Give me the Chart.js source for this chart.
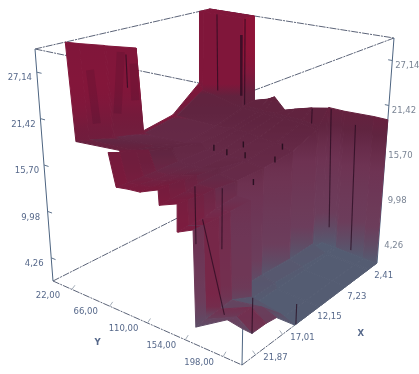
<!DOCTYPE html>
<html>
<head>
<meta charset="utf-8">
<title>Surface</title>
<script src="https://cdn.jsdelivr.net/npm/chart.js@4"></script>
<style>
  html, body { margin: 0; padding: 0; background: #fff; }
  #chart { display: block; filter: blur(0.5px); }
</style>
</head>
<body>
<canvas id="chart" width="419" height="374"></canvas>
<script>
const xTicks = [2.41, 7.23, 12.15, 17.01, 21.87];
const yTicks = [22, 66, 110, 154, 198];
const zTicks = [4.26, 9.98, 15.7, 21.42, 27.14];
const xLabels = ["2,41", "7,23", "12,15", "17,01", "21,87"];
const yLabels = ["22,00", "66,00", "110,00", "154,00", "198,00"];
const zLabels = ["4,26", "9,98", "15,70", "21,42", "27,14"];

const xRange = [0, 24.3];
const yRange = [0, 220];
const zRange = [1.4, 30];

const gridX = [24.3, 22.6, 20.1, 18.2, 14.8, 14.6, 10.4, 10.3, 5.6, 1.7, 1.46, 0.12, 0];
const gridY = [0, 4.4, 52.8, 53.9, 71.9, 79.2, 92.4, 105.2, 125.4, 126.3, 146.1, 146.7, 163.5, 166.3, 202.4, 220];
const n = null;
const surfaceZ = [
  [n, n, n, n, 19.6, 15.8, 16, 16.1, 17, 15.3, 16.1, 13, 13.8, 3.3, 5.5, 5.2],
  [n, n, n, n, 19.1, 15.7, 16, 16.1, 17, 15.4, 16, 13.1, 13.7, 3.4, 5.1, 4],
  [30, 17.5, 18, 18, 18.6, 15.7, 15.7, 16, 16.8, 15.4, 15.7, 13.1, 13.7, 3.5, 5.1, 4],
  [29.4, 17.1, 17.4, 17.4, 18, 15.7, 15.7, 16, 16.6, 15.7, 15.7, 13.4, 13.7, 3.7, 4.3, 3.8],
  [28.4, 16.3, 16.8, 16.8, 17.1, 15.7, 15.7, 15.7, 16.3, 15.7, 15.4, 13.7, 13.7, 2.5, 2, 1.4],
  [28.3, 16.3, 16.8, 16.8, 17.1, 15.7, 15.7, 15.7, 16.3, 15.7, 15.4, 2.3, 2, 1.4, 1.4, 1.4],
  [27, 15.4, 15.7, 15.7, 16.3, 15.7, 15.7, 15.7, 15.7, 15.7, 15.4, 2.3, 2, 1.4, 1.4, 1.4],
  [15.4, 15.4, 15.7, 15.7, 16.3, 15.7, 15.7, 15.7, 15.7, 15.7, 15.4, 2.3, 2, 1.4, 1.4, 1.4],
  [16.2, 16.2, 16.3, 16.3, 16.6, 16.6, 16.6, 16.3, 16.3, 16.3, 15.7, 2, 1.7, 1.4, 1.4, 1.4],
  [19.5, 18.6, 17.4, 17.4, 17.4, 17.4, 17.4, 17.4, 17.4, 17.4, 17.1, 2, 1.4, 1.4, 1.4, 1.4],
  [30, 30, 30, 17.7, 17.7, 17.7, 17.7, 17.7, 17.7, 17.7, 17.4, 1.4, 1.4, 1.4, 1.4, 1.4],
  [30, 30, 30, 17.9, 18.6, 19.1, 17.6, 18.1, 18.8, 18.8, 19.3, 1.4, 1.4, 1.4, 1.4, 1.4],
  [30, 30, 30, 17.9, 18.6, 19.1, 17.6, 18.1, 18.8, 18.8, 19.3, 19.4, 19.4, 19.4, 19.6, 19.6],
];

// dark creases on the surface: [x, y, z] start and end
const creaseFrom = [
  [0.05, 150, 19.3], [0.05, 181, 18], [0.5, 130, 19], [19.5, 163.5, 16.8], [22.6, 220, 7.8],
  [14.6, 220, 3.7], [24.3, 174, 15.3], [24.2, 165, 18.6], [1.46, 20.7, 30], [1.46, 54, 30],
  [1.0, 46, 27.4], [11.9, 0.4, 26.5],
];
const creaseTo = [
  [0.05, 155, 3.7], [0.05, 185, 1.8], [0.5, 130, 17], [19.5, 163.5, 9.9], [22.6, 220, 4],
  [14.6, 220, 1.4], [24.3, 199, 5.9], [24.2, 166, 12.3], [1.46, 20.7, 18.9], [1.46, 54, 17.8],
  [1.0, 46, 18.7], [11.9, 0.4, 22],
];
// wide soft streaks on the back slab
const streakFrom = [[17, 0.4, 25.7], [12.6, 0.4, 27], [10.9, 0.4, 25]];
const streakTo = [[16.5, 0.4, 18.6], [13.5, 0.4, 19], [10.9, 0.4, 20]];
const speckX = [9.5, 9.7, 7, 9.2, 8.3, 5.1, 14.3];
const speckY = [81, 98, 97, 116, 145, 130, 163];
const speckZ = [15.7, 15.7, 15.7, 15.7, 15.7, 15.7, 15.7];

// frame corners on the page, floor then top: [x=max y=min, x=max y=max, x=min y=max, x=min y=min]
const floorFrame = [[53, 281], [242, 365], [377, 263], [213, 200]];
const topFrame = [[35, 49], [247, 93], [394, 38], [210, 9]];

const norm = (v, r) => (v - r[0]) / (r[1] - r[0]);
const mix = (a, b, t) => a + (b - a) * t;

function bilinear(f, u, v, k) {
  return mix(mix(f[0][k], f[1][k], v), mix(f[3][k], f[2][k], v), u);
}

function project(x, y, z) {
  const u = 1 - norm(x, xRange);
  const v = norm(y, yRange);
  const w = norm(z, zRange);
  return {
    x: mix(bilinear(floorFrame, u, v, 0), bilinear(topFrame, u, v, 0), w),
    y: mix(bilinear(floorFrame, u, v, 1), bilinear(topFrame, u, v, 1), w),
  };
}

const colorStops = [
  [0, [84, 92, 114]],
  [0.05, [90, 82, 106]],
  [0.14, [108, 62, 92]],
  [0.42, [110, 50, 82]],
  [0.55, [96, 36, 64]],
  [0.62, [98, 34, 62]],
  [0.72, [128, 24, 60]],
  [0.82, [142, 20, 56]],
  [1, [142, 20, 56]],
];

function surfaceColor(x, y, z) {
  const u = 1 - norm(x, xRange);
  const v = norm(y, yRange);
  const w = norm(z, zRange);
  let i = 0;
  while (i < colorStops.length - 2 && w > colorStops[i + 1][0]) i++;
  const t = (w - colorStops[i][0]) / (colorStops[i + 1][0] - colorStops[i][0]);
  let rgb = colorStops[i][1].map((c, k) => mix(c, colorStops[i + 1][1][k], t));
  // left side, back slab and back pillar read redder, the front left strip does not
  let red = Math.max((0.35 - u) / 0.35 * 0.8, (0.04 - v) / 0.04, 0);
  if (u > 0.93 && v < 0.23 && w > 0.62) red = 1;
  if (u < 0.08 && v > 0.74) red = 0;
  red = Math.min(1, red) * Math.min(1, Math.max(0, (w - 0.03) / 0.1));
  rgb = rgb.map((c, k) => mix(c, [128, 22, 58][k], red));
  return "rgb(" + rgb.map(Math.round).join(",") + ")";
}

const canvas = document.getElementById("chart");
const ctx = canvas.getContext("2d");
const datasets = [];

function addLine(points, color, width, dash) {
  datasets.push({
    data: points,
    showLine: true,
    fill: false,
    pointRadius: 0,
    borderColor: color,
    borderWidth: width,
    borderDash: dash || [],
  });
}

// frame edges, behind the surface
const xa = xRange[0], xb = xRange[1], ya = yRange[0], yb = yRange[1], za = zRange[0], zb = zRange[1];
const frameEdges = [
  [[xb, ya, zb], [xa, ya, zb]], [[xa, ya, zb], [xa, yb, zb]], [[xa, yb, zb], [xb, yb, zb]], [[xb, yb, zb], [xb, ya, zb]],
  [[xb, ya, za], [xb, yb, za]], [[xb, yb, za], [xa, yb, za]], [[xb, ya, za], [xa, ya, za]],
  [[xb, ya, za], [xb, ya, zb]], [[xa, yb, za], [xa, yb, zb]], [[xb, yb, za], [xb, yb, zb]],
];
frameEdges.forEach((e, i) => {
  const solid = i >= 7;
  addLine(e.map((p) => project(p[0], p[1], p[2])), solid ? "#4d6480" : "#5c6478", 1, solid ? [] : [7, 1, 2, 1]);
});

// tick marks
yTicks.forEach((t) => addLine([project(xb, t, za), project(xb - 0.5, t, za + 0.3)], "#a4adb8", 1));
xTicks.forEach((t) => addLine([project(t, yb, za), project(t, yb - 3.5, za + 0.3)], "#a4adb8", 1));
zTicks.forEach((t) => {
  addLine([project(xb, ya, t), project(xb, ya + 5, t)], "#5f738c", 1);
  addLine([project(xa, yb, t), project(xa, yb - 5, t)], "#5f738c", 1);
});

// surface cells, back to front
for (let i = gridX.length - 2; i >= 0; i--) {
  for (let j = 0; j < gridY.length - 1; j++) {
    const corners = [[i, j], [i + 1, j], [i + 1, j + 1], [i, j + 1]]
      .filter((c) => surfaceZ[c[0]][c[1]] !== null)
      .map((c) => [gridX[c[0]], gridY[c[1]], surfaceZ[c[0]][c[1]]]);
    if (corners.length < 3) continue;
    const pts = corners.map((c) => project(c[0], c[1], c[2]));
    let top = 0, bottom = 0;
    pts.forEach((p, k) => {
      if (p.y < pts[top].y) top = k;
      if (p.y > pts[bottom].y) bottom = k;
    });
    const a = corners[top];
    const b = corners[bottom];
    const grad = ctx.createLinearGradient(0, pts[top].y, 0, Math.max(pts[bottom].y, pts[top].y + 0.5));
    for (let s = 0; s <= 8; s++) {
      const f = s / 8;
      grad.addColorStop(f, surfaceColor(mix(a[0], b[0], f), mix(a[1], b[1], f), mix(a[2], b[2], f)));
    }
    datasets.push({
      data: pts.concat([pts[0]]),
      showLine: true,
      fill: "shape",
      pointRadius: 0,
      tension: 0,
      backgroundColor: grad,
      borderColor: grad,
      borderWidth: 1,
    });
  }
}

streakFrom.forEach((p, i) => {
  const q = streakTo[i];
  addLine([project(p[0], p[1], p[2]), project(q[0], q[1], q[2])], "rgba(40,10,30,0.13)", 8);
});

creaseFrom.forEach((p, i) => {
  const q = creaseTo[i];
  addLine([project(p[0], p[1], p[2]), project(q[0], q[1], q[2])], "rgba(38,10,30,0.72)", i === 10 ? 2.4 : 1.1);
});

datasets.push({
  data: speckX.map((x, i) => project(x, speckY[i], speckZ[i])),
  showLine: false,
  pointStyle: "line",
  rotation: 90,
  pointRadius: 3,
  pointBorderColor: "rgba(30,10,26,0.85)",
  pointBorderWidth: 1.4,
});

// tick labels next to their ticks
const axisText = {
  id: "axisText",
  afterDatasetsDraw(chart) {
    const c = chart.ctx;
    const sx = chart.scales.x;
    const sy = chart.scales.y;
    const put = (text, p, dx, dy, color) => {
      c.fillStyle = color;
      c.fillText(text, sx.getPixelForValue(p.x) + dx, sy.getPixelForValue(p.y) + dy);
    };
    c.save();
    c.font = "8.5px 'DejaVu Sans'";
    c.textAlign = "center";
    c.textBaseline = "middle";
    yTicks.forEach((t, i) => put(yLabels[i], project(xb, t, za), -24, 6, "#56688a"));
    xTicks.forEach((t, i) => put(xLabels[i], project(t, yb, za), 20, 3, "#56688a"));
    zTicks.forEach((t, i) => {
      put(zLabels[i], project(xb, ya, t), -17, 6, "#56688a");
      put(zLabels[i], project(xa, yb, t), 15, 5.5, "#7a8494");
    });
    c.font = "bold 8.5px 'DejaVu Sans'";
    put("Y", project(xb, 88, za), -31, 28, "#56688a");
    put("X", project(6, yb, za), 17, 46, "#56688a");
    c.restore();
  },
};

new Chart(canvas, {
  type: "scatter",
  data: { datasets: datasets.reverse() },
  options: {
    responsive: false,
    animation: false,
    layout: { padding: 0, autoPadding: false },
    plugins: { legend: { display: false }, tooltip: { enabled: false } },
    scales: {
      x: { type: "linear", display: false, min: 0, max: 419 },
      y: { type: "linear", display: false, min: 0, max: 374, reverse: true },
    },
  },
  plugins: [axisText],
});
</script>
</body>
</html>
